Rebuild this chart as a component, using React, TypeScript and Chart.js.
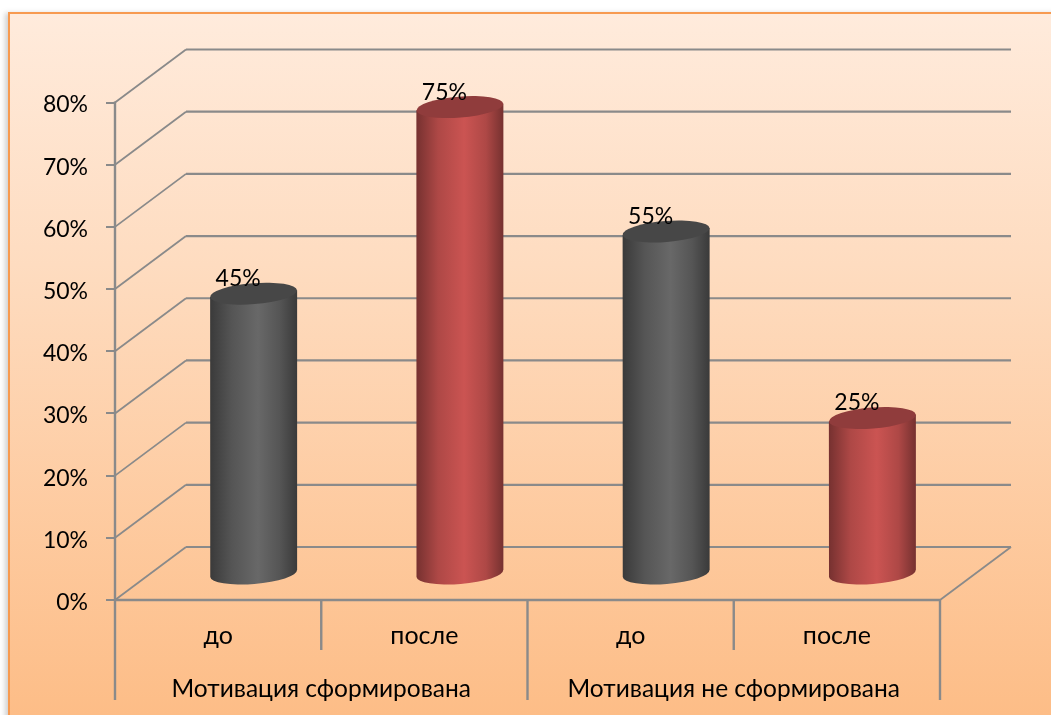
import React, { useEffect, useRef } from "react";
import { Chart, registerables } from "chart.js";

Chart.register(...registerables);

const subCategories = ["до", "после", "до", "после"];
const groupCategories = ["Мотивация сформирована", "Мотивация не сформирована"];
const values = [45, 75, 55, 25];
const barColors = ["#686868", "#cb5452", "#686868", "#cb5452"];
const barMidColors = ["#555555", "#ae4846", "#555555", "#ae4846"];
const barEdgeColors = ["#3a3a3a", "#763130", "#3a3a3a", "#763130"];
const barTopColors = ["#474747", "#903c3c", "#474747", "#903c3c"];
const gridColor = "#8a8a8a";
const fontFamily = "Lato, 'Open Sans', sans-serif";

const DEPTH_X = 71;
const DEPTH_Y = -53;
const TICK_LABEL_SHIFT = 2.5;

const frame3d = {
  id: "frame3d",
  beforeDraw(chart: any) {
    const y = chart.scales.y;
    if (!y.__shifted) {
      const orig = y.drawLabels;
      y.drawLabels = function (area: any) {
        chart.ctx.save();
        chart.ctx.translate(0, TICK_LABEL_SHIFT);
        orig.call(this, area);
        chart.ctx.restore();
      };
      y.__shifted = true;
    }
  },
  beforeDatasetsDraw(chart: any) {
    const { ctx, scales } = chart;
    const y = scales.y;
    const x = scales.x;
    const left = x.left;
    const right = x.right;
    ctx.save();
    ctx.strokeStyle = gridColor;
    ctx.lineCap = "butt";
    const line = (a: number, b: number, c: number, d: number) => {
      ctx.beginPath();
      ctx.moveTo(a, b);
      ctx.lineTo(c, d);
      ctx.stroke();
    };
    y.ticks.forEach((t: any) => {
      const py = y.getPixelForValue(t.value);
      ctx.lineWidth = 1.8;
      line(left, py, left + DEPTH_X, py + DEPTH_Y);
      ctx.lineWidth = 2.2;
      line(left + DEPTH_X, py + DEPTH_Y, right + DEPTH_X, py + DEPTH_Y);
    });
    const base = y.getPixelForValue(0);
    ctx.lineWidth = 1.8;
    line(right, base, right + DEPTH_X, base + DEPTH_Y);
    ctx.lineWidth = 2.4;
    line(left, base, right, base);
    line(left, y.getPixelForValue(80) - 1, left, 700);
    line(right, base, right, 700);
    const step = (right - left) / subCategories.length;
    line(left + step, base, left + step, 650);
    line(left + 3 * step, base, left + 3 * step, 650);
    line(left + 2 * step, base, left + 2 * step, 700);
    ctx.restore();
  },
  beforeDatasetDraw(chart: any, args: any) {
    const { ctx, scales } = chart;
    const meta = chart.getDatasetMeta(args.index);
    const baseY = scales.y.getPixelForValue(0) + DEPTH_Y / 2;
    const rx = 43.5;
    const ry = 10.5;
    const rot = (-4.5 * Math.PI) / 180;
    const sl = Math.sin(rot) * rx;
    meta.data.forEach((el: any, i: number) => {
      const cx = el.x + DEPTH_X / 2;
      const topY = el.y + DEPTH_Y / 2;
      ctx.save();
      const g = ctx.createLinearGradient(cx - rx, 0, cx + rx, 0);
      g.addColorStop(0, barEdgeColors[i]);
      g.addColorStop(0.25, barMidColors[i]);
      g.addColorStop(0.55, barColors[i]);
      g.addColorStop(0.8, barMidColors[i]);
      g.addColorStop(1, barEdgeColors[i]);
      ctx.fillStyle = g;
      ctx.beginPath();
      ctx.moveTo(cx - rx, topY - sl);
      ctx.lineTo(cx + rx, topY + sl);
      ctx.lineTo(cx + rx, baseY + sl);
      ctx.ellipse(cx, baseY, rx, ry, rot, 0, Math.PI);
      ctx.closePath();
      ctx.fill();
      ctx.fillStyle = barTopColors[i];
      ctx.beginPath();
      ctx.ellipse(cx, topY, rx, ry, rot, 0, Math.PI * 2);
      ctx.fill();
      ctx.restore();
    });
    return false;
  },
  afterDatasetsDraw(chart: any) {
    const { ctx } = chart;
    const meta = chart.getDatasetMeta(0);
    ctx.save();
    ctx.fillStyle = "#000000";
    ctx.font = `23px ${fontFamily}`;
    ctx.textAlign = "center";
    ctx.textBaseline = "middle";
    meta.data.forEach((el: any, i: number) => {
      ctx.fillText(`${values[i]}%`, el.x + 20, el.y + DEPTH_Y / 2 - 15);
    });
    ctx.restore();
  },
};

export default function App() {
  const ref = useRef<HTMLCanvasElement>(null);
  useEffect(() => {
    const chart = new Chart(ref.current!, {
      type: "bar",
      data: {
        labels: subCategories,
        datasets: [{ data: values, backgroundColor: barColors, barPercentage: 1, categoryPercentage: 0.42 }],
      },
      options: {
        responsive: false,
        animation: false,
        layout: { padding: { left: 0, right: 111, top: 102.5, bottom: 0 } },
        plugins: { legend: { display: false }, tooltip: { enabled: false }, title: { display: false } },
        scales: {
          y: {
            min: 0,
            max: 80,
            afterFit: (s: any) => { s.width = 115; },
            ticks: {
              stepSize: 10,
              callback: (v: any) => `${v}%`,
              color: "#000000",
              padding: 18,
              font: { family: fontFamily, size: 23 },
            },
            grid: { drawOnChartArea: false, drawTicks: true, tickLength: 9, color: gridColor, lineWidth: 2 },
            border: { display: false },
          },
          x: {
            position: "bottom",
            afterFit: (s: any) => { s.height = 50; },
            ticks: { color: "#000000", padding: 13, font: { family: fontFamily, size: 25 }, maxRotation: 0 },
            grid: { display: false },
            border: { display: false },
          },
          x2: {
            type: "category",
            position: "bottom",
            labels: groupCategories,
            afterFit: (s: any) => { s.height = 65; },
            ticks: { color: "#000000", padding: 16, font: { family: fontFamily, size: 24.5 }, maxRotation: 0 },
            grid: { display: false },
            border: { display: false },
          },
        },
      },
      plugins: [frame3d],
    } as any);
    return () => chart.destroy();
  }, []);
  return (
    <div style={{ position: "fixed", left: 0, top: 0, width: 1051, height: 715, overflow: "hidden", background: "#fff" }}>
      <div
        style={{
          position: "absolute",
          left: 8,
          top: 12,
          width: 1060,
          height: 720,
          boxSizing: "border-box",
          border: "2px solid #f79a50",
          background: "linear-gradient(180deg, #ffebdc 0%, #fedcc0 35%, #fdbc85 100%)",
          boxShadow: "-3px 1px 5px rgba(120,120,120,0.35)",
        }}
      />
      <canvas ref={ref} width={1051} height={715} style={{ position: "absolute", left: 0, top: 0, display: "block" }} />
    </div>
  );
}
